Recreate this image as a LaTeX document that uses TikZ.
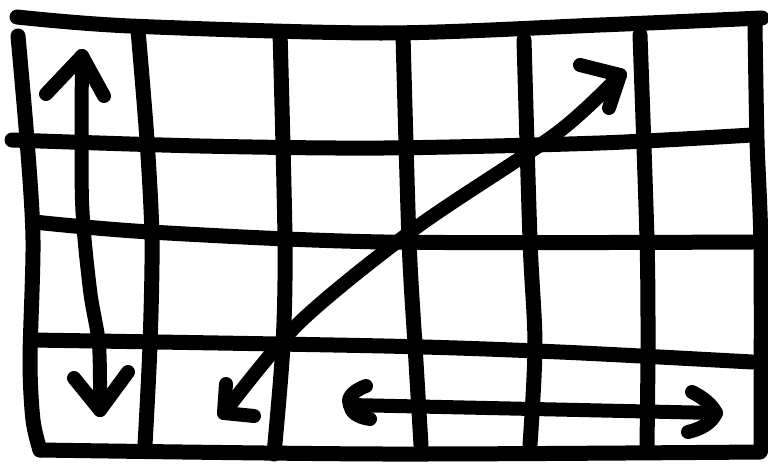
\documentclass[tikz,border=0pt]{standalone}
\begin{document}
\begin{tikzpicture}[x=1pt,y=-1pt,
  ink/.style={line width=15pt, line cap=round, line join=round, draw=black},
  shaft/.style={line width=14pt, line cap=round, line join=round, draw=black}]
\useasboundingbox (0,0) rectangle (768,468);
\fill[white] (0,0) rectangle (768,468);
% horizontal lines
\draw[ink] plot[smooth] coordinates {(17,17) (130,26) (384,33) (600,25) (762,18)};
\draw[ink] plot[smooth] coordinates {(12,140) (200,146) (384,148) (600,143) (752,135)};
\draw[ink] plot[smooth] coordinates {(34,222) (150,232) (384,242) (752,242)};
\draw[ink] plot[smooth] coordinates {(32,340) (384,346) (560,352) (752,362)};
\draw[ink] plot[smooth] coordinates {(40,450) (384,454) (760,452)};
% vertical lines
\draw[ink] plot[smooth] coordinates {(18,36) (27,140) (33,240) (30,360) (33,420) (40,450)};
\draw[ink] plot[smooth] coordinates {(138,30) (147,140) (152,240) (150,345) (145,445)};
\draw[ink] plot[smooth] coordinates {(280,32) (285,240) (283,345) (274,454)};
\draw[ink] plot[smooth] coordinates {(403,35) (409,240) (415,345) (421,445)};
\draw[ink] plot[smooth] coordinates {(524,40) (530,240) (535,345) (530,445)};
\draw[ink] plot[smooth] coordinates {(640,35) (647,240) (648,345) (647,445)};
\draw[ink] plot[smooth] coordinates {(755,25) (757,140) (761,250) (761,450)};
% vertical double arrow
\coordinate (vt) at (82,56);
\coordinate (vb) at (100,410);
\draw[shaft] plot[smooth] coordinates {(vt) (82,200) (90,290) (99,345) (vb)};
\draw[shaft] (46,94) -- (vt) -- (104,96);
\draw[shaft] (74,378) -- (vb) -- (128,372);
% diagonal double arrow
\coordinate (dl) at (224,413);
\coordinate (dr) at (620,75);
\draw[shaft] plot[smooth] coordinates {(dl) (300,322) (417,227) (557,133) (dr)};
\draw[shaft] (226,384) -- (dl) -- (254,416);
\draw[shaft] (580,65) -- (dr) -- (609,108);
% horizontal double arrow
\coordinate (hl) at (350,405);
\coordinate (hr) at (716,413);
\draw[shaft] (hl) -- (hr);
\draw[shaft] (366,386) .. controls (350,392) and (347,400) .. (hl) .. controls (351,412) and (357,417) .. (370,419);
\draw[shaft] (692,392) .. controls (704,398) and (712,405) .. (hr) .. controls (711,424) and (700,429) .. (688,432);
\end{tikzpicture}
\end{document}
